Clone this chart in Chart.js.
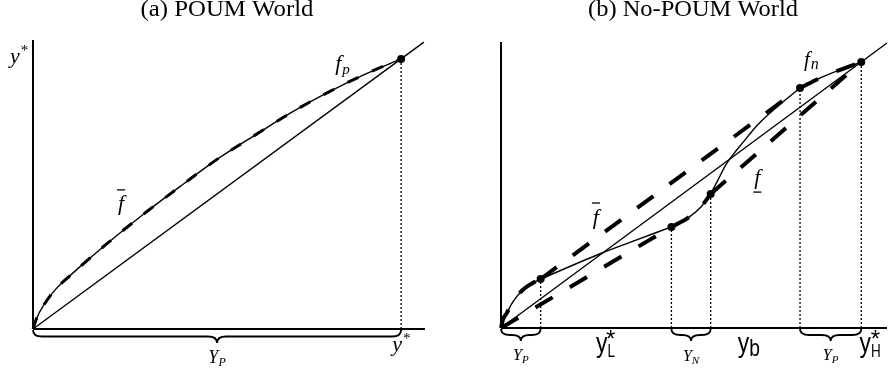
<!DOCTYPE html>
<html>
<head>
<meta charset="utf-8">
<script src="https://cdn.jsdelivr.net/npm/chart.js@4.4.1/dist/chart.umd.min.js"></script>
<style>
  html, body { margin: 0; padding: 0; background: #fff; }
  #wrap { position: relative; width: 891px; height: 373px; overflow: hidden; }
  canvas { position: absolute; top: 0; }
  #poum { left: 0; }
  #nopoum { left: 445px; }
</style>
</head>
<body>
<div id="wrap">
  <canvas id="poum" width="445" height="373"></canvas>
  <canvas id="nopoum" width="446" height="373"></canvas>
</div>
<script>
// ---- Panel (a): POUM world ------------------------------------------
// value function f_p (coincides with its concave hull f-bar)
const poumCurveX = [0, 0.01, 0.03, 0.06, 0.10, 0.15, 0.20, 0.30, 0.40, 0.50, 0.60, 0.70, 0.80, 0.90, 1];
const poumCurveY = [0, 0.040, 0.090, 0.145, 0.197, 0.257, 0.315, 0.425, 0.528, 0.628, 0.715, 0.800, 0.875, 0.942, 1];
// the point where f_p meets the 45-degree line
const poumDotX = [1];
const poumDotY = [1];

// ---- Panel (b): No-POUM world ---------------------------------------
// value function f_n
const fnX = [0, 0.005, 0.016, 0.033, 0.060, 0.088, 0.110, 0.280, 0.354, 0.473, 0.519, 0.555, 0.582, 0.602, 0.624, 0.643, 0.670, 0.712, 0.766, 0.830, 0.896, 1];
const fnY = [0, 0.030, 0.056, 0.098, 0.143, 0.169, 0.184, 0.282, 0.320, 0.380, 0.414, 0.455, 0.504, 0.556, 0.613, 0.650, 0.695, 0.763, 0.831, 0.902, 0.946, 1];
// marked points on f_n
const fnDotX = [0.110, 0.473, 0.582, 0.830, 1];
const fnDotY = [0.184, 0.380, 0.504, 0.902, 1];

const SERIF = '"Liberation Serif", "DejaVu Serif", serif';
const SANS = '"Liberation Sans", "DejaVu Sans", sans-serif';

const pts = (xs, ys) => xs.map((x, i) => ({ x, y: ys[i] }));
const idxOf = (x) => fnX.indexOf(x);
const fnPiece = (x0, x1) => pts(fnX.slice(idxOf(x0), idxOf(x1) + 1), fnY.slice(idxOf(x0), idxOf(x1) + 1));

function lineDs(data, extra) {
  return Object.assign({
    data, showLine: true, borderColor: '#000', backgroundColor: '#000',
    borderWidth: 1.4, pointRadius: 0, fill: false, clip: false, tension: 0
  }, extra || {});
}
const curve = { cubicInterpolationMode: 'monotone' };
const bigDash = { borderWidth: 4, borderDash: [20, 20], borderCapStyle: 'butt' };
const dotted = { borderWidth: 1.3, borderDash: [2, 2] };

// ---- drawing helpers for text, braces and rules ----------------------
function drawPieces(ctx, x, y, pieces) {
  let cx = x;
  pieces.forEach(p => {
    ctx.save();
    ctx.font = (p.style || '') + ' ' + p.size + 'px ' + (p.family || SERIF);
    const sx = p.sx || 1;
    ctx.translate(cx + (p.dx || 0), y + (p.dy || 0));
    ctx.scale(sx, 1);
    ctx.fillText(p.t, 0, 0);
    const w = ctx.measureText(p.t).width * sx;
    ctx.restore();
    cx += (p.dx || 0) + w;
  });
  return cx - x;
}
function measurePieces(ctx, pieces) {
  let w = 0;
  pieces.forEach(p => {
    ctx.save();
    ctx.font = (p.style || '') + ' ' + p.size + 'px ' + (p.family || SERIF);
    w += (p.dx || 0) + ctx.measureText(p.t).width * (p.sx || 1);
    ctx.restore();
  });
  return w;
}
function brace(ctx, x1, x2, y0, h) {
  const xm = (x1 + x2) / 2, ym = y0 + h / 2, q = Math.min(9, (x2 - x1) / 4);
  ctx.beginPath();
  ctx.moveTo(x1, y0);
  ctx.quadraticCurveTo(x1, ym, x1 + q, ym);
  ctx.lineTo(xm - q, ym);
  ctx.quadraticCurveTo(xm, ym, xm, y0 + h);
  ctx.quadraticCurveTo(xm, ym, xm + q, ym);
  ctx.lineTo(x2 - q, ym);
  ctx.quadraticCurveTo(x2, ym, x2, y0);
  ctx.stroke();
}

function decor(spec) {
  return {
    id: 'decor',
    afterDatasetsDraw(chart) {
      const ctx = chart.ctx, xs = chart.scales.x, ys = chart.scales.y;
      const X = v => xs.getPixelForValue(v), Y = v => ys.getPixelForValue(v);
      ctx.save();
      ctx.fillStyle = '#000';
      ctx.strokeStyle = '#000';
      ctx.textBaseline = 'alphabetic';
      // panel title, stretched to the width of the original typesetting
      ctx.font = '24px ' + SERIF;
      const tw = ctx.measureText(spec.title).width;
      ctx.save();
      ctx.translate(spec.titleX, 16);
      ctx.scale(spec.titleW / tw, 1);
      ctx.textAlign = 'center';
      ctx.fillText(spec.title, 0, 0);
      ctx.restore();
      // braces under the x axis with their set labels
      ctx.lineWidth = 1.8;
      spec.braces.forEach(b => {
        const x1 = X(b.from), x2 = X(b.to), y0 = Y(0) + 1;
        brace(ctx, x1, x2, y0, b.h);
        const w = measurePieces(ctx, b.label);
        drawPieces(ctx, (x1 + x2) / 2 - w / 2 + (b.shift || 0), Y(0) + b.base, b.label);
      });
      // math labels
      spec.labels.forEach(l => {
        const x = X(l.x), y = Y(l.y);
        const w = drawPieces(ctx, x, y, l.pieces);
        if (l.over !== undefined || l.under !== undefined) {
          ctx.lineWidth = 1.3;
          const yy = y + (l.over !== undefined ? l.over : l.under);
          ctx.beginPath();
          ctx.moveTo(x - 1, yy);
          ctx.lineTo(x + w + 1, yy);
          ctx.stroke();
        }
      });
      ctx.restore();
    }
  };
}

function baseOptions(pad, xmax, ymax) {
  return {
    responsive: false,
    animation: false,
    events: [],
    layout: { padding: pad },
    plugins: { legend: { display: false }, tooltip: { enabled: false }, title: { display: false } },
    scales: {
      x: { type: 'linear', display: false, min: 0, max: xmax },
      y: { type: 'linear', display: false, min: 0, max: ymax }
    }
  };
}

// ---- Panel (a) --------------------------------------------------------
const poumXmax = 1.065, poumYmax = 1.070;
new Chart(document.getElementById('poum'), {
  type: 'scatter',
  data: {
    datasets: [
      lineDs([{ x: 0, y: 0 }, { x: poumXmax, y: 0 }], { borderWidth: 2 }),
      lineDs([{ x: 0, y: 0 }, { x: 0, y: poumYmax }], { borderWidth: 2 }),
      lineDs([{ x: 0, y: 0 }, { x: 1.062, y: 1.062 }]),
      lineDs(pts(poumCurveX, poumCurveY), curve),
      lineDs(pts(poumCurveX, poumCurveY), Object.assign({ borderWidth: 3, borderDash: [12, 15], borderCapStyle: 'butt' }, curve)),
      lineDs([{ x: poumDotX[0], y: 0 }, { x: poumDotX[0], y: poumDotY[0] }], dotted),
      { data: pts(poumDotX, poumDotY), pointRadius: 4, backgroundColor: '#000', borderColor: '#000', borderWidth: 0, showLine: false, clip: false }
    ]
  },
  options: baseOptions({ left: 33, right: 20, top: 40, bottom: 44 }, poumXmax, poumYmax),
  plugins: [decor({
    title: '(a) POUM World', titleX: 227, titleW: 173,
    braces: [
      { from: 0, to: poumDotX[0], h: 13, base: 34,
        label: [{ t: 'Y', size: 18, style: 'italic' }, { t: 'P', size: 12, style: 'italic', dy: 3 }] }
    ],
    labels: [
      { x: -0.0625, y: 0.985, pieces: [{ t: 'y', size: 22, style: 'italic' }, { t: '*', size: 15, dy: -8, dx: 1 }] },
      { x: 0.821, y: 0.959, pieces: [{ t: 'f', size: 22, style: 'italic' }, { t: 'p', size: 15, style: 'italic', dy: 4, dx: 1 }] },
      { x: 0.231, y: 0.441, over: -20, pieces: [{ t: 'f', size: 22, style: 'italic' }] },
      { x: 0.976, y: -0.081, pieces: [{ t: 'y', size: 22, style: 'italic' }, { t: '*', size: 15, dy: -8, dx: 1 }] }
    ]
  })]
});

// ---- Panel (b) --------------------------------------------------------
const nopXmax = 1.0714, nopYmax = 1.0752;
const [P1x, P2x, P3x, P4x, P5x] = fnDotX;
const [P1y, P2y, P3y, P4y, P5y] = fnDotY;
new Chart(document.getElementById('nopoum'), {
  type: 'scatter',
  data: {
    datasets: [
      lineDs([{ x: 0, y: 0 }, { x: nopXmax, y: 0 }], { borderWidth: 2 }),
      lineDs([{ x: 0, y: 0 }, { x: 0, y: nopYmax }], { borderWidth: 2 }),
      lineDs([{ x: 0, y: 0 }, { x: nopXmax, y: nopXmax }]),
      // f_n drawn piece by piece between its marked points
      lineDs(fnPiece(0, P1x), curve),
      lineDs(fnPiece(P1x, P2x), curve),
      lineDs(fnPiece(P2x, P3x), curve),
      lineDs(fnPiece(P3x, P4x), curve),
      lineDs(fnPiece(P4x, P5x), curve),
      // upper hull f-bar
      lineDs(fnPiece(0, P1x), Object.assign({}, curve, bigDash)),
      lineDs([{ x: P1x, y: P1y }, { x: P4x, y: P4y }], bigDash),
      lineDs(fnPiece(P4x, P5x), Object.assign({}, curve, bigDash)),
      // lower hull f-underbar
      lineDs([{ x: 0, y: 0 }, { x: P2x, y: P2y }], bigDash),
      lineDs(fnPiece(P2x, P3x), Object.assign({}, curve, bigDash)),
      lineDs([{ x: P3x, y: P3y }, { x: P5x, y: P5y }], bigDash),
      // dotted drop lines
      ...fnDotX.map((x, i) => lineDs([{ x, y: 0 }, { x, y: fnDotY[i] }], dotted)),
      { data: pts(fnDotX, fnDotY), pointRadius: 4, backgroundColor: '#000', borderColor: '#000', borderWidth: 0, showLine: false, clip: false }
    ]
  },
  options: baseOptions({ left: 56, right: 0, top: 42, bottom: 45 }, nopXmax, nopYmax),
  plugins: [decor({
    title: '(b) No-POUM World', titleX: 248, titleW: 210,
    braces: [
      { from: 0, to: P1x, h: 12, base: 32,
        label: [{ t: 'Y', size: 16, style: 'italic' }, { t: 'P', size: 11, style: 'italic', dy: 3 }] },
      { from: P2x, to: P3x, h: 12, base: 33,
        label: [{ t: 'Y', size: 16, style: 'italic' }, { t: 'N', size: 11, style: 'italic', dy: 3 }] },
      { from: P4x, to: P5x, h: 12, base: 32,
        label: [{ t: 'Y', size: 16, style: 'italic' }, { t: 'P', size: 11, style: 'italic', dy: 3 }] }
    ],
    labels: [
      { x: 0.841, y: 0.985, pieces: [{ t: 'f', size: 21, style: 'italic' }, { t: 'n', size: 16, style: 'italic', dy: 3, dx: 1 }] },
      { x: 0.255, y: 0.391, over: -21, pieces: [{ t: 'f', size: 22, style: 'italic' }] },
      { x: 0.703, y: 0.541, under: 8, pieces: [{ t: 'f', size: 22, style: 'italic' }] },
      { x: 0.264, y: -0.090, pieces: [{ t: 'y', size: 27, family: SANS, sx: 0.85 }, { t: 'L', size: 18, family: SANS, sx: 0.75, dy: 5 }, { t: '*', size: 24, family: SANS, dy: -5, dx: -9 }] },
      { x: 0.657, y: -0.090, pieces: [{ t: 'y', size: 27, family: SANS, sx: 0.85 }, { t: 'b', size: 24, family: SANS, sx: 0.8, dy: 4 }] },
      { x: 0.995, y: -0.090, pieces: [{ t: 'y', size: 27, family: SANS, sx: 0.85 }, { t: 'H', size: 18, family: SANS, sx: 0.75, dy: 5 }, { t: '*', size: 24, family: SANS, dy: -5, dx: -10 }] }
    ]
  })]
});
</script>
</body>
</html>
